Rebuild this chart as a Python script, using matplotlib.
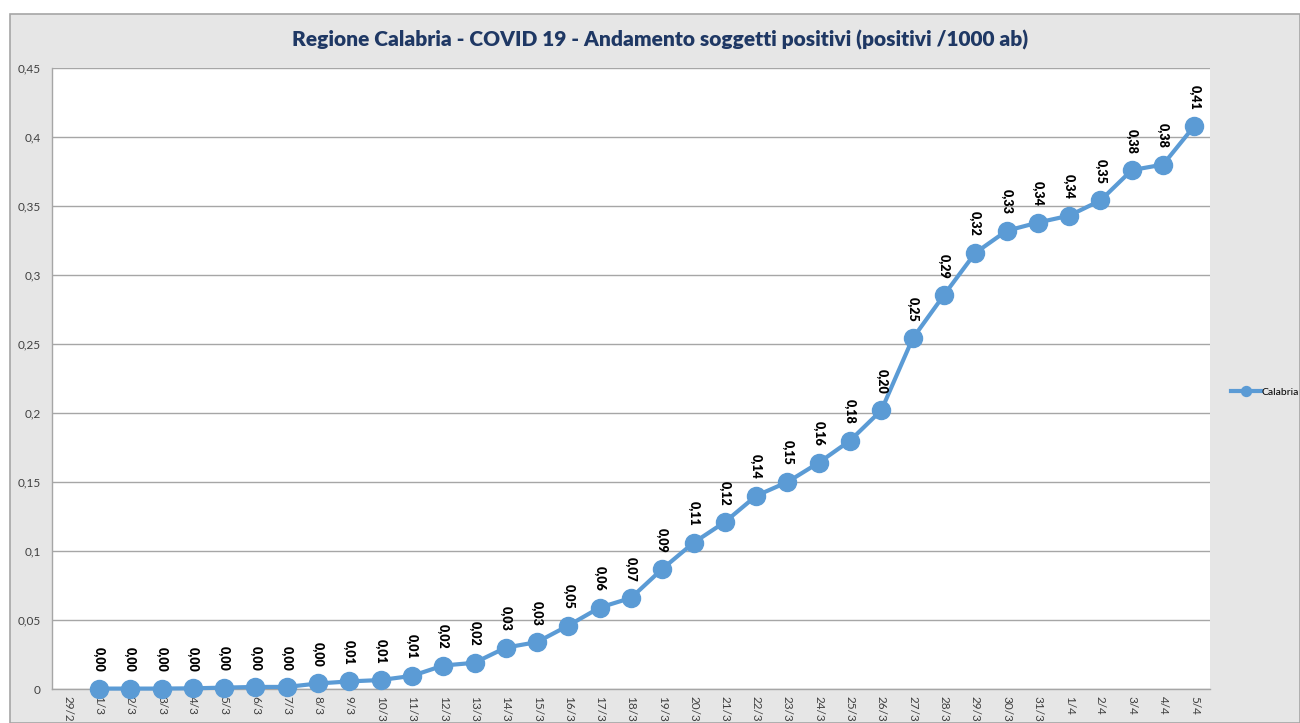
import matplotlib
matplotlib.use("Agg")
import matplotlib.pyplot as plt
from matplotlib.patches import Rectangle
from matplotlib.ticker import FuncFormatter, MultipleLocator

plt.rcParams['font.family'] = ['Lato', 'DejaVu Sans']

dates = ["29/2", "1/3", "2/3", "3/3", "4/3", "5/3", "6/3", "7/3", "8/3", "9/3", "10/3",
         "11/3", "12/3", "13/3", "14/3", "15/3", "16/3", "17/3", "18/3", "19/3", "20/3",
         "21/3", "22/3", "23/3", "24/3", "25/3", "26/3", "27/3", "28/3", "29/3", "30/3",
         "31/3", "1/4", "2/4", "3/4", "4/4", "5/4"]
series_dates = dates[1:]
calabria = [0.0003, 0.0003, 0.0003, 0.0005, 0.001, 0.0015, 0.0015, 0.004, 0.0055, 0.0065,
            0.0095, 0.017, 0.019, 0.030, 0.034, 0.046, 0.059, 0.066, 0.087, 0.106,
            0.121, 0.140, 0.150, 0.164, 0.180, 0.202, 0.254, 0.2855, 0.316, 0.332,
            0.338, 0.343, 0.354, 0.376, 0.380, 0.408]
title = "Regione Calabria - COVID 19 - Andamento soggetti positivi (positivi /1000 ab)"

W, H = 1300, 723
fig = plt.figure(figsize=(W / 100, H / 100), dpi=100)
fig.patch.set_facecolor("white")
bg = Rectangle((10 / W, 0), (W - 10) / W, (H - 14) / H, transform=fig.transFigure,
               facecolor="#E6E6E6", edgecolor="#A6A6A6", linewidth=1.2, zorder=-10)
fig.patches.append(bg)

ax = fig.add_axes([52 / W, (H - 689) / H, 1158 / W, 621 / H])
ax.set_zorder(1)
ax.set_facecolor("white")

x_idx = [dates.index(d) for d in series_dates]
ax.plot(x_idx, calabria, color="#5B9BD5", linewidth=3, marker="o", markersize=13,
        markerfacecolor="#5B9BD5", markeredgecolor="#5B9BD5", zorder=3, label="Calabria",
        clip_on=False)

for xi, v in zip(x_idx, calabria):
    ax.annotate(f"{v:.2f}".replace(".", ","), (xi, v), xytext=(0, 12),
                textcoords="offset points", rotation=270, ha="center", va="bottom",
                fontsize=9, fontweight="heavy", color="black")

ax.set_xlim(-0.5, len(dates) - 0.5)
ax.set_ylim(0, 0.45)
ax.yaxis.set_major_locator(MultipleLocator(0.05))
ax.yaxis.set_major_formatter(FuncFormatter(lambda v, p: "0" if abs(v) < 1e-9 else f"{v:.2f}".rstrip("0").replace(".", ",")))
ax.set_xticks(range(len(dates)))
ax.set_xticklabels(dates, rotation=270, fontsize=8.5, color="#404040")
ax.tick_params(axis="x", length=0, pad=5)
ax.tick_params(axis="y", length=0, pad=8, labelsize=8.5, labelcolor="#404040")
ax.grid(axis="y", color="#A6A6A6", linewidth=1)
ax.set_axisbelow(True)
for s in ["top", "right"]:
    ax.spines[s].set_visible(False)
for s in ["left", "bottom"]:
    ax.spines[s].set_color("#A6A6A6")
    ax.spines[s].set_linewidth(1)

fig.text(660 / W, 1 - 40 / H, title, ha="center", va="center", fontsize=15,
         fontweight="heavy", color="#1F3864")

leg = fig.legend(loc="center left", bbox_to_anchor=(1222 / W, 1 - 392 / H), frameon=False,
                 fontsize=7.5, handlelength=2.8, handletextpad=0.1, markerscale=0.55)

fig.savefig("out.png", dpi=100)
